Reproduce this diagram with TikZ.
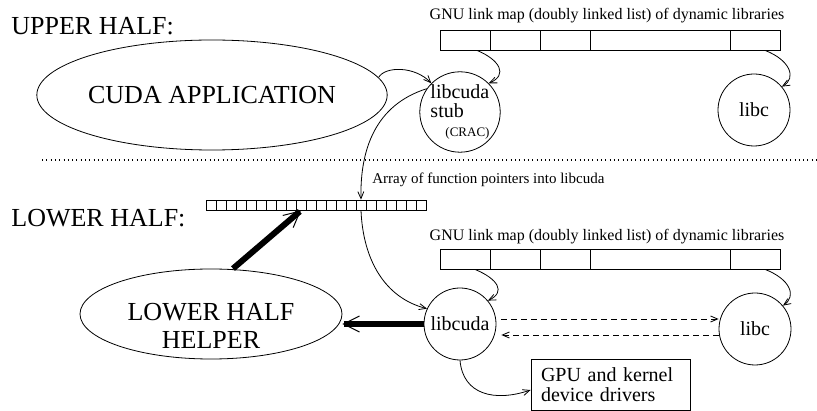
\documentclass[tikz,border=0pt]{standalone}
\usepackage{fontspec}
\setmainfont{Liberation Serif}
\usetikzlibrary{shapes.geometric,arrows.meta}

\newcommand{\bigtxt}{\fontsize{26}{28}\selectfont}
\newcommand{\midtxt}{\fontsize{20}{19}\selectfont}
\newcommand{\smalltxt}{\fontsize{16}{18}\selectfont}

\begin{document}
\begin{tikzpicture}[x=1pt,y=-1pt,line width=0.8pt,
    >={Straight Barb[length=7pt,width=6pt]},
    lib/.style={draw,circle,minimum size=72pt,font=\midtxt},
    blob/.style={draw,ellipse,font=\bigtxt,align=center},
    cell/.style={draw,rectangle,minimum height=20pt},
    slot/.style={draw,rectangle,minimum size=10pt},
    dashes/.style={dash pattern=on 6pt off 4pt},
    divider/.style={line width=1.2pt,dash pattern=on 1pt off 3.3pt},
    fat/.style={line width=6pt,-{Straight Barb[length=16pt,width=16pt,line width=1pt 0]}}]
    \tikzstyle{every node}+=[inner sep=0pt]
    \useasboundingbox (0,0) rectangle (817,411);
    % upper half
    \node[anchor=base west,font=\bigtxt] (upper) at (11,35) {UPPER HALF:};
    \node[blob,minimum width=320pt,minimum height=110pt] (app) at (212,95) {CUDA APPLICATION};
    \node[lib,align=left] (stub) at (460,112) {libcuda\\stub\\\hspace*{15pt}{\fontsize{13}{14}\selectfont (CRAC)}};
    \node[lib] (ulibc) at (754,110) {libc};
    % link maps
    \node[font=\smalltxt] (umtitle) at (607,16) {GNU link map (doubly linked list) of dynamic libraries};
    \node[font=\smalltxt] (lmtitle) at (607,237) {GNU link map (doubly linked list) of dynamic libraries};
    \foreach \y/\m in {40/um,259/lm}
      \foreach \xa/\xb [count=\i] in {440/490,490/540,540/590,590/730,730/780}
        \node[cell,minimum width=\xb-\xa] (\m\i) at ({(\xa+\xb)/2},\y) {};
    % divider
    \coordinate (divl) at (42,160);
    \coordinate (divr) at (817,160);
    \draw[divider] (divl) -- (divr);
    % lower half
    \node[anchor=base west,font=\bigtxt] (lower) at (11,227) {LOWER HALF:};
    \foreach \i in {1,...,22}
      \node[slot] (a\i) at ({201+10*\i},205) {};
    \node[anchor=west,font=\fontsize{15}{17}\selectfont] (alabel) at (372,180) {Array of function pointers into libcuda};
    \node[blob,minimum width=262pt,minimum height=90pt,
      label={[font=\bigtxt,align=center,yshift=-12pt]center:LOWER HALF\\HELPER}] (helper) at (211,314) {};
    \node[lib] (lcuda) at (460,324) {libcuda};
    \node[lib] (llibc) at (755,329) {libc};
    \node[draw,rectangle,font=\fontsize{20}{20}\selectfont,align=left,text width=139pt,
      inner xsep=10pt,minimum height=51pt] (gpu) at (610.5,384.5) {GPU and kernel\\device drivers};
    % connectors
    \draw[->] (app.6) .. controls (385,66) and (415,66) .. (stub.135);
    \draw[->] (stub.145) .. controls (375,105) and (360,150) .. (a16.north);
    \draw[->] (a16.south) .. controls (363,260) and (385,298) .. (lcuda.155);
    \draw[->] ([xshift=12pt]um1.south) .. controls (500,60) and (508,75) .. (stub.45);
    \draw[->] ([xshift=10pt]um5.south) .. controls (790,60) and (797,78) .. (ulibc.40);
    \draw[->] ([xshift=10pt]lm1.south) .. controls (498,279) and (506,292) .. (lcuda.40);
    \draw[->] ([xshift=10pt]lm5.south) .. controls (790,279) and (797,296) .. (llibc.40);
    \draw[->,dashes] ([xshift=5pt,yshift=5pt]lcuda.east) -- ([yshift=10pt]llibc.west);
    \draw[->,dashes] ([yshift=-6pt]llibc.west) -- ([xshift=5pt,yshift=-11pt]lcuda.east);
    \draw[->] (lcuda.south) .. controls (463,395) and (495,402) .. ([yshift=-5.5pt]gpu.west);
    \draw[fat] (lcuda.west) -- (lcuda.west -| helper.east);
    \draw[fat] ([xshift=22pt]helper.north) -- (a10.south);
\end{tikzpicture}
\end{document}
